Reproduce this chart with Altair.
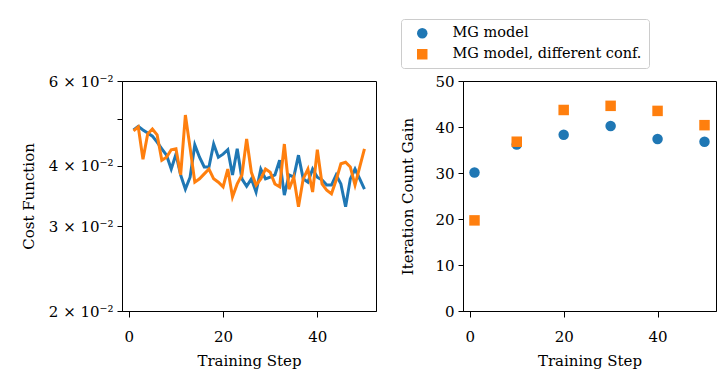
import altair as alt
import pandas as pd

# ---- data ----
steps = list(range(1, 51))
cost_mg = [0.0475, 0.0483, 0.0475, 0.0468, 0.0461, 0.0448, 0.0434, 0.0421, 0.0394, 0.0423,
           0.0383, 0.0358, 0.0379, 0.0442, 0.0417, 0.0398, 0.0398, 0.0444, 0.0417, 0.0423,
           0.0432, 0.0383, 0.0434, 0.0376, 0.0363, 0.0376, 0.0353, 0.0394, 0.0376, 0.0379,
           0.0383, 0.0411, 0.0348, 0.0383, 0.0379, 0.0421, 0.0376, 0.0370, 0.0394, 0.0379,
           0.0374, 0.0365, 0.0365, 0.0383, 0.0367, 0.0329, 0.0376, 0.0394, 0.0376, 0.0358]
cost_diff = [0.0473, 0.0482, 0.0413, 0.0466, 0.0477, 0.0464, 0.0411, 0.0417, 0.0432, 0.0434,
             0.0383, 0.0510, 0.0436, 0.0370, 0.0376, 0.0385, 0.0394, 0.0376, 0.0370, 0.0362,
             0.0394, 0.0345, 0.0367, 0.0383, 0.0455, 0.0388, 0.0365, 0.0376, 0.0394, 0.0388,
             0.0367, 0.0362, 0.0444, 0.0358, 0.0379, 0.0329, 0.0376, 0.0394, 0.0353, 0.0432,
             0.0367, 0.0356, 0.0350, 0.0374, 0.0404, 0.0407, 0.0398, 0.0365, 0.0398, 0.0434]

gain_steps = [1, 10, 20, 30, 40, 50]
gain_mg = [30.1, 36.2, 38.3, 40.2, 37.4, 36.8]
gain_diff = [19.7, 36.8, 43.7, 44.6, 43.5, 40.4]

series_names = ["MG model", "MG model, different conf."]
series_colors = ["#1f77b4", "#ff7f0e"]
series_shapes = ["circle", "square"]

y_log_ticks = [0.02, 0.03, 0.04, 0.05, 0.06]
y_log_labels = ["2 × 10⁻²", "3 × 10⁻²", "4 × 10⁻²", "", "6 × 10⁻²"]
x_ticks = [0, 20, 40]
y_gain_ticks = [0, 10, 20, 30, 40, 50]

# ---- tables ----
cost_df = pd.DataFrame({
    "step": steps * 2,
    "cost": cost_mg + cost_diff,
    "series": [series_names[0]] * len(steps) + [series_names[1]] * len(steps),
    "order": [0] * len(steps) + [1] * len(steps),
})
gain_df = pd.DataFrame({
    "step": gain_steps * 2,
    "gain": gain_mg + gain_diff,
    "series": [series_names[0]] * len(gain_steps) + [series_names[1]] * len(gain_steps),
    "order": [0] * len(gain_steps) + [1] * len(gain_steps),
})

label_expr = " : ".join(
    f"datum.value > {v - 0.001} && datum.value < {v + 0.001} ? '{l}'" for v, l in zip(y_log_ticks, y_log_labels)
) + " : ''"

FONT = "DejaVu Serif"
FS = 15

x_axis = alt.Axis(values=x_ticks, title="Training Step", grid=False, tickSize=6,
                  labelPadding=12, titlePadding=9)

left = alt.Chart(cost_df).mark_line(strokeWidth=3, clip=True).encode(
    x=alt.X("step:Q", scale=alt.Scale(domain=[-1.45, 52.45], nice=False, zero=False), axis=x_axis),
    y=alt.Y("cost:Q", scale=alt.Scale(type="log", domain=[0.02, 0.06], nice=False),
            axis=alt.Axis(values=y_log_ticks, labelExpr=label_expr, title="Cost Function",
                          grid=False, tickSize=5, labelPadding=4, titlePadding=12)),
    color=alt.Color("series:N", scale=alt.Scale(domain=series_names, range=series_colors), legend=None),
    detail="series:N",
    order="order:Q",
).properties(width=254, height=230)

legend = alt.Legend(title=None, orient="none", legendX=-62, legendY=-62,
                    strokeColor="#cccccc", fillColor="white", padding=7,
                    cornerRadius=3, symbolSize=110, labelOffset=23, symbolOffset=7,
                    rowPadding=6, labelFontSize=14.5, labelFont=FONT, labelColor="black",
                    labelLimit=0, symbolStrokeWidth=0)

right = alt.Chart(gain_df).mark_point(filled=True, opacity=1, size=110).encode(
    x=alt.X("step:Q", scale=alt.Scale(domain=[-1.45, 52.45], nice=False, zero=False), axis=x_axis),
    y=alt.Y("gain:Q", scale=alt.Scale(domain=[0, 50], nice=False),
            axis=alt.Axis(values=y_gain_ticks, title="Iteration Count Gain", grid=False,
                          tickSize=5, labelPadding=4, titlePadding=19)),
    color=alt.Color("series:N", scale=alt.Scale(domain=series_names, range=series_colors),
                    legend=legend),
    shape=alt.Shape("series:N", scale=alt.Scale(domain=series_names, range=series_shapes),
                    legend=legend),
    order="order:Q",
).properties(width=253, height=230)

chart = alt.hconcat(left, right, spacing=23).resolve_scale(
    color="independent", shape="independent"
).resolve_legend(color="independent", shape="independent").properties(
    padding={"left": 12, "top": 10, "right": 0, "bottom": 0}
).configure(background="white").configure_view(
    stroke="black", strokeWidth=1
).configure_axis(
    domainColor="black", tickColor="black", labelColor="black", titleColor="black",
    labelFont=FONT, titleFont=FONT, labelFontSize=FS, titleFontSize=FS, titleFontWeight="normal",
)

chart.save("out.html", embed_options={"renderer": "svg", "actions": False})
